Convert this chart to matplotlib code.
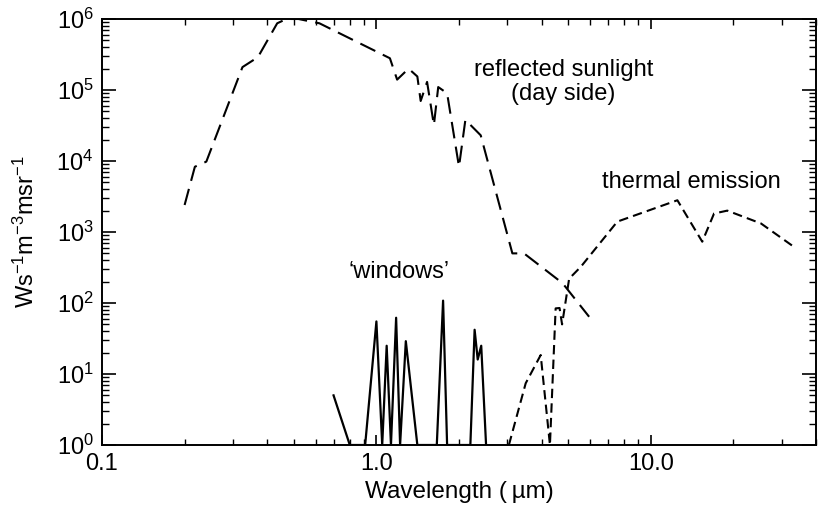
import matplotlib
matplotlib.use("Agg")
import matplotlib.pyplot as plt
from matplotlib.ticker import LogLocator, FixedLocator, FixedFormatter, NullFormatter, LogFormatterMathtext

plt.rcParams['font.family'] = ['Liberation Sans', 'DejaVu Sans']
plt.rcParams['mathtext.fontset'] = 'custom'
plt.rcParams['mathtext.rm'] = 'Liberation Sans'
plt.rcParams['mathtext.it'] = 'Liberation Sans:italic'
plt.rcParams['mathtext.default'] = 'regular'

# reflected sunlight (day side)
refl_x = [0.20, 0.218, 0.24, 0.325, 0.37, 0.435, 0.47, 0.52, 0.62, 1.12, 1.19, 1.31,
          1.41, 1.45, 1.53, 1.62, 1.68, 1.81, 2.0, 2.11, 2.4, 3.13, 3.45, 4.77, 5.96]
refl_y = [2.4e3, 8.3e3, 9.8e3, 2.1e5, 2.9e5, 8.7e5, 1.0e6, 1.0e6, 8.7e5, 2.8e5, 1.4e5, 2.0e5,
          1.55e5, 7.0e4, 1.3e5, 3.2e4, 1.1e5, 9.0e4, 8.3e3, 3.8e4, 2.3e4, 500, 500, 190, 64]

# thermal emission
therm_x = [3.04, 3.5, 3.97, 4.29, 4.5, 4.65, 4.75, 5.04, 5.56, 7.55, 12.5, 15.4, 17.0, 19.0, 25.2, 33.8]
therm_y = [1.0, 7.4, 18.5, 1.0, 84, 85, 50, 220, 324, 1400, 2800, 730, 1820, 2000, 1320, 590]

# 'windows'
win_x = [0.698, 0.80, 0.91, 1.0, 1.05, 1.09, 1.13, 1.18, 1.22, 1.28, 1.41,
         1.66, 1.75, 1.81, 2.20, 2.28, 2.34, 2.41, 2.51]
win_y = [5.0, 1.0, 1.0, 55, 1.0, 25, 1.0, 62, 1.0, 29, 1.0,
         1.0, 108, 1.0, 1.0, 42, 16, 25, 1.0]

xticks = [0.1, 1.0, 10.0]
xticklabels = ["0.1", "1.0", "10.0"]

fig = plt.figure(figsize=(8.21, 5.12), dpi=100)
ax = fig.add_axes([102/821, 1-445/512, (816-102)/821, (445-19)/512])
ax.set_xscale('log')
ax.set_yscale('log')
ax.set_xlim(0.1, 40)
ax.set_ylim(1, 1e6)

ax.plot(refl_x, refl_y, color='black', lw=1.5, linestyle=(0, (8, 4)))
ax.plot(therm_x, therm_y, color='black', lw=1.5, linestyle=(0, (4.5, 2.5)))
ax.plot(win_x, win_y, color='black', lw=1.6, linestyle='-')

ax.xaxis.set_major_locator(FixedLocator(xticks))
ax.xaxis.set_major_formatter(FixedFormatter(xticklabels))
ax.xaxis.set_minor_locator(LogLocator(base=10, subs=range(2, 10), numticks=20))
ax.xaxis.set_minor_formatter(NullFormatter())
ax.yaxis.set_major_locator(LogLocator(base=10, numticks=10))
ax.yaxis.set_major_formatter(LogFormatterMathtext())
ax.yaxis.set_minor_locator(LogLocator(base=10, subs=range(2, 10), numticks=20))
ax.yaxis.set_minor_formatter(NullFormatter())

ax.tick_params(axis='both', which='both', direction='in', top=True, right=True, colors='black')
ax.tick_params(axis='y', which='major', length=10, width=1.2, labelsize=17, pad=6)
ax.tick_params(axis='y', which='minor', length=5, width=1.0)
ax.tick_params(axis='x', which='major', length=7, width=1.2, labelsize=17, pad=6)
ax.tick_params(axis='x', which='minor', length=4, width=1.0)
for s in ax.spines.values():
    s.set_linewidth(1.4)

ax.set_xlabel('Wavelength (\u2009\u00b5m)', fontsize=17.5)
ax.xaxis.set_label_coords(0.5, -0.085)
ax.set_ylabel(r'Ws$^{-1}$m$^{-3}$msr$^{-1}$', fontsize=17)
ax.yaxis.set_label_coords(-0.088, 0.5)

ax.text(4.8, 1.3e5, 'reflected sunlight\n(day side)', fontsize=17, ha='center', va='center',
        linespacing=1.15)
ax.text(14.0, 5.0e3, 'thermal emission', fontsize=17, ha='center', va='center')
ax.text(0.79, 2.75e2, '\u2018windows\u2019', fontsize=17, ha='left', va='center')

fig.savefig('out.png', dpi=100)
